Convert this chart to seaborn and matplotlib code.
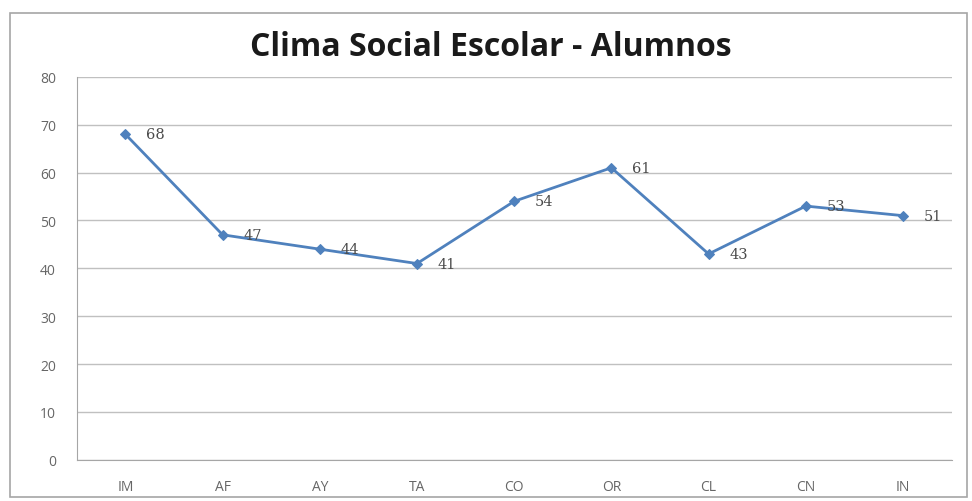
import matplotlib
matplotlib.use("Agg")
import matplotlib.pyplot as plt
import seaborn as sns
import pandas as pd
from matplotlib.patches import Rectangle

# Data
categories = ["IM", "AF", "AY", "TA", "CO", "OR", "CL", "CN", "IN"]
values = [68, 47, 44, 41, 54, 61, 43, 53, 51]
y_ticks = [0, 10, 20, 30, 40, 50, 60, 70, 80]

sns.set_style("white")
plt.rcParams['font.family'] = ['Open Sans', 'DejaVu Sans']

df = pd.DataFrame({"cat": categories, "val": values})

fig = plt.figure(figsize=(9.72, 5.02), dpi=100)
ax = fig.add_axes([0.079, 0.082, 0.900, 0.763])

# outer chart frame
fig.patches.append(Rectangle((0.010, 0.008), 0.985, 0.965, transform=fig.transFigure,
                             fill=False, edgecolor='#a6a6a6', linewidth=1.2))

sns.lineplot(data=df, x="cat", y="val", ax=ax, color='#4F81BD', linewidth=2,
             marker='D', markersize=5, markeredgecolor='#4F81BD', sort=False)

for i, v in enumerate(values):
    ax.annotate(str(v), (i, v), xytext=(15, 0), textcoords='offset points',
                fontsize=10.5, color='#4a4a4a', family=['DejaVu Serif'], va='center')

ax.set_xlim(-0.5, len(categories) - 0.5)
ax.set_ylim(0, 80)
ax.set_yticks(y_ticks)
ax.yaxis.grid(True, color='#c0c0c0', linewidth=1)
ax.set_axisbelow(True)
ax.set_xlabel("")
ax.set_ylabel("")
ax.tick_params(axis='both', labelsize=10, colors='#666666', length=0)
ax.tick_params(axis='y', pad=15)
ax.tick_params(axis='x', pad=14)
for s in ['top', 'right']:
    ax.spines[s].set_visible(False)
for s in ['left', 'bottom']:
    ax.spines[s].set_color('#a6a6a6')

fig.text(0.505, 0.905, "Clima Social Escolar - Alumnos", ha='center', va='center',
         fontsize=23, fontweight='bold', color='#1a1a1a')

fig.savefig("out.png", dpi=100)
